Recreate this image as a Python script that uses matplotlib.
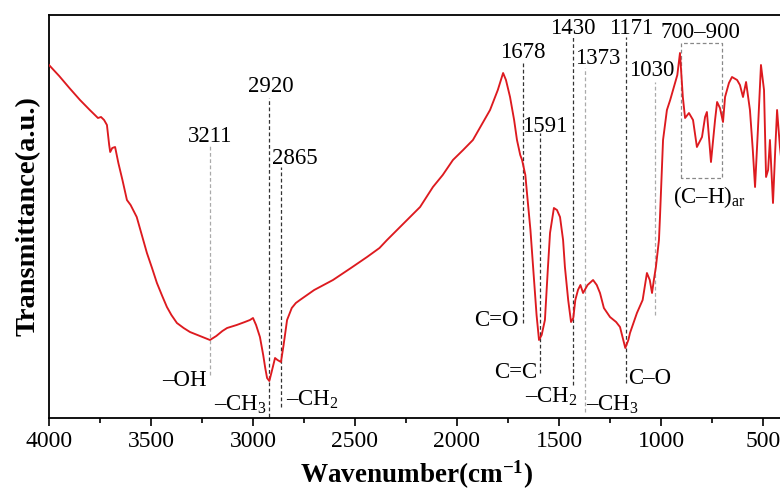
import matplotlib
matplotlib.use('Agg')
import matplotlib.pyplot as plt
from matplotlib.ticker import MultipleLocator

plt.rcParams['font.family'] = ['Liberation Serif', 'DejaVu Serif']
plt.rcParams['mathtext.fontset'] = 'custom'
plt.rcParams['mathtext.rm'] = 'Liberation Serif'
plt.rcParams['mathtext.it'] = 'Liberation Serif:italic'
plt.rcParams['mathtext.bf'] = 'Liberation Serif:bold'

# FTIR spectrum (wavenumber, transmittance in a.u.)
wavenumber = [4000, 3950, 3900, 3848, 3800, 3760, 3745, 3730, 3716, 3705, 3700, 3690,
              3676, 3660, 3640, 3618, 3600, 3570, 3545, 3520, 3495, 3471, 3445, 3422,
              3400, 3373, 3340, 3309, 3260, 3211, 3180, 3150, 3127, 3080, 3040, 3015,
              3000, 2985, 2966, 2950, 2940, 2931, 2920, 2910, 2892, 2880, 2863, 2850,
              2833, 2810, 2790, 2770, 2700, 2608, 2520, 2441, 2380, 2343, 2279, 2230,
              2181, 2118, 2070, 2020, 1970, 1922, 1880, 1838, 1800, 1774, 1760, 1740,
              1720, 1706, 1690, 1681, 1665, 1657, 1640, 1627, 1610, 1598, 1585, 1569,
              1555, 1544, 1525, 1510, 1495, 1480, 1471, 1455, 1441, 1430, 1420, 1407,
              1395, 1382, 1360, 1333, 1315, 1299, 1280, 1250, 1220, 1201, 1185, 1175,
              1160, 1152, 1130, 1118, 1090, 1069, 1055, 1044, 1035, 1025, 1010, 1005,
              990, 971, 955, 941, 920, 907, 893, 882, 863, 843, 824, 799,
              784, 775, 755, 735, 725, 711, 696, 686, 667, 652, 627, 613,
              598, 583, 564, 550, 539, 525, 510, 495, 485, 475, 466, 451,
              440, 431, 417, 405]
transmittance = [353, 342, 330, 318, 308, 300, 301, 298, 293, 273, 266, 270,
                 271, 255, 238, 218, 213, 201, 183, 165, 150, 135, 122, 111,
                 103, 95, 90, 86, 82, 78, 82, 87, 90, 93, 96, 98,
                 100, 93, 81, 63, 50, 40, 37, 45, 60, 58, 56, 73,
                 98, 110, 115, 118, 128, 138, 150, 161, 170, 178, 191, 201,
                 211, 231, 243, 258, 268, 278, 293, 308, 328, 345, 338, 321,
                 298, 278, 263, 258, 243, 225, 188, 151, 103, 78, 83, 98,
                 148, 185, 210, 208, 201, 178, 151, 118, 96, 100, 118, 128,
                 133, 125, 133, 138, 133, 125, 110, 101, 96, 91, 78, 70,
                 78, 85, 98, 105, 118, 145, 138, 125, 138, 151, 178, 201,
                 278, 308, 318, 328, 343, 365, 321, 300, 305, 298, 271, 281,
                 301, 306, 256, 298, 316, 310, 296, 321, 335, 341, 338, 333,
                 321, 336, 308, 268, 231, 288, 353, 328, 241, 248, 278, 215,
                 268, 308, 271, 248]

xticks = [4000, 3500, 3000, 2500, 2000, 1500, 1000, 500]

# peak markers: label, line position, line top, line bottom, colour
peak_labels = ['3211', '2920', '2865', '1678', '1591', '1430', '1373', '1171', '1030']
peak_pos = [3211, 2920, 2865, 1678, 1591, 1430, 1373, 1171, 1030]
line_top = [273, 320, 251, 355, 285, 383, 350, 381, 336]
line_bot = [43, 1, 11, 95, 45, 33, 6, 35, 103]
line_col = ['#aaaaaa', '#333333', '#333333', '#333333', '#333333', '#333333',
            '#aaaaaa', '#333333', '#aaaaaa']

fig = plt.figure(figsize=(7.8, 4.93), dpi=100)
ax = fig.add_axes([49 / 780, 75 / 493, 734.4 / 780, 403 / 493])

ax.plot(wavenumber, transmittance, color='#dd1a1f', lw=1.35, zorder=3)

for x, t, b, c in zip(peak_pos, line_top, line_bot, line_col):
    ax.vlines(x, b, t, colors=c, linestyles=(0, (3, 2)), lw=0.9, zorder=2)

fs = 16.5
# numbers above the lines
ax.text(3211, 281, '3211', ha='center', va='center', fontsize=fs)
ax.text(2915, 331, '2920', ha='center', va='center', fontsize=fs)
ax.text(2905, 260, '2865', ha='left', va='center', fontsize=fs)
ax.text(1678, 365, '1678', ha='center', va='center', fontsize=fs)
ax.text(1680, 291, '1591', ha='left', va='center', fontsize=fs)
ax.text(1430, 390, '1430', ha='center', va='center', fontsize=fs)
ax.text(1420, 360, '1373', ha='left', va='center', fontsize=fs)
ax.text(1145, 390, '1171', ha='center', va='center', fontsize=fs)
ax.text(1045, 347, '1030', ha='center', va='center', fontsize=fs)
ax.text(805, 386, '700–900', ha='center', va='center', fontsize=fs)

# group names below the lines
ax.text(3225, 38, '–OH', ha='right', va='center', fontsize=fs)
ax.text(2930, 13, '–CH$_\\mathrm{3}$', ha='right', va='center', fontsize=fs)
ax.text(2840, 18, '–CH$_\\mathrm{2}$', ha='left', va='center', fontsize=fs)
ax.text(1700, 97, 'C=O', ha='right', va='center', fontsize=fs)
ax.text(1605, 46, 'C=C', ha='right', va='center', fontsize=fs)
ax.text(1540, 21, '–CH$_\\mathrm{2}$', ha='center', va='center', fontsize=fs)
ax.text(1370, 13, '–CH$_\\mathrm{3}$', ha='left', va='center', fontsize=fs)
ax.text(1160, 40, 'C–O', ha='left', va='center', fontsize=fs)
ax.text(765, 221, '(C–H)$_\\mathrm{ar}$', ha='center', va='center', fontsize=fs)

# dashed box over the aromatic C-H region
ax.plot([900, 900, 700, 700, 900], [240, 375, 375, 240, 240], color='#888888',
        ls=(0, (3, 2)), lw=0.9, zorder=2)

ax.set_xlim(4000, 400)
ax.set_ylim(0, 403)
ax.set_xticks(xticks)
ax.xaxis.set_minor_locator(MultipleLocator(250))
ax.tick_params(axis='x', which='major', direction='out', length=6, width=1.2, labelsize=17)
ax.tick_params(axis='x', which='minor', direction='out', length=3.5, width=1.2)
ax.set_yticks([])
for s in ax.spines.values():
    s.set_linewidth(1.3)
ax.spines['right'].set_visible(False)

ax.set_xlabel('Wavenumber(cm$^{\\mathbf{-1}}$)', fontsize=19.5, fontweight='bold', labelpad=5)
ax.set_ylabel('Transmittance(a.u.)', fontsize=20.5, fontweight='bold', labelpad=6)

fig.savefig('out.png', dpi=100)
